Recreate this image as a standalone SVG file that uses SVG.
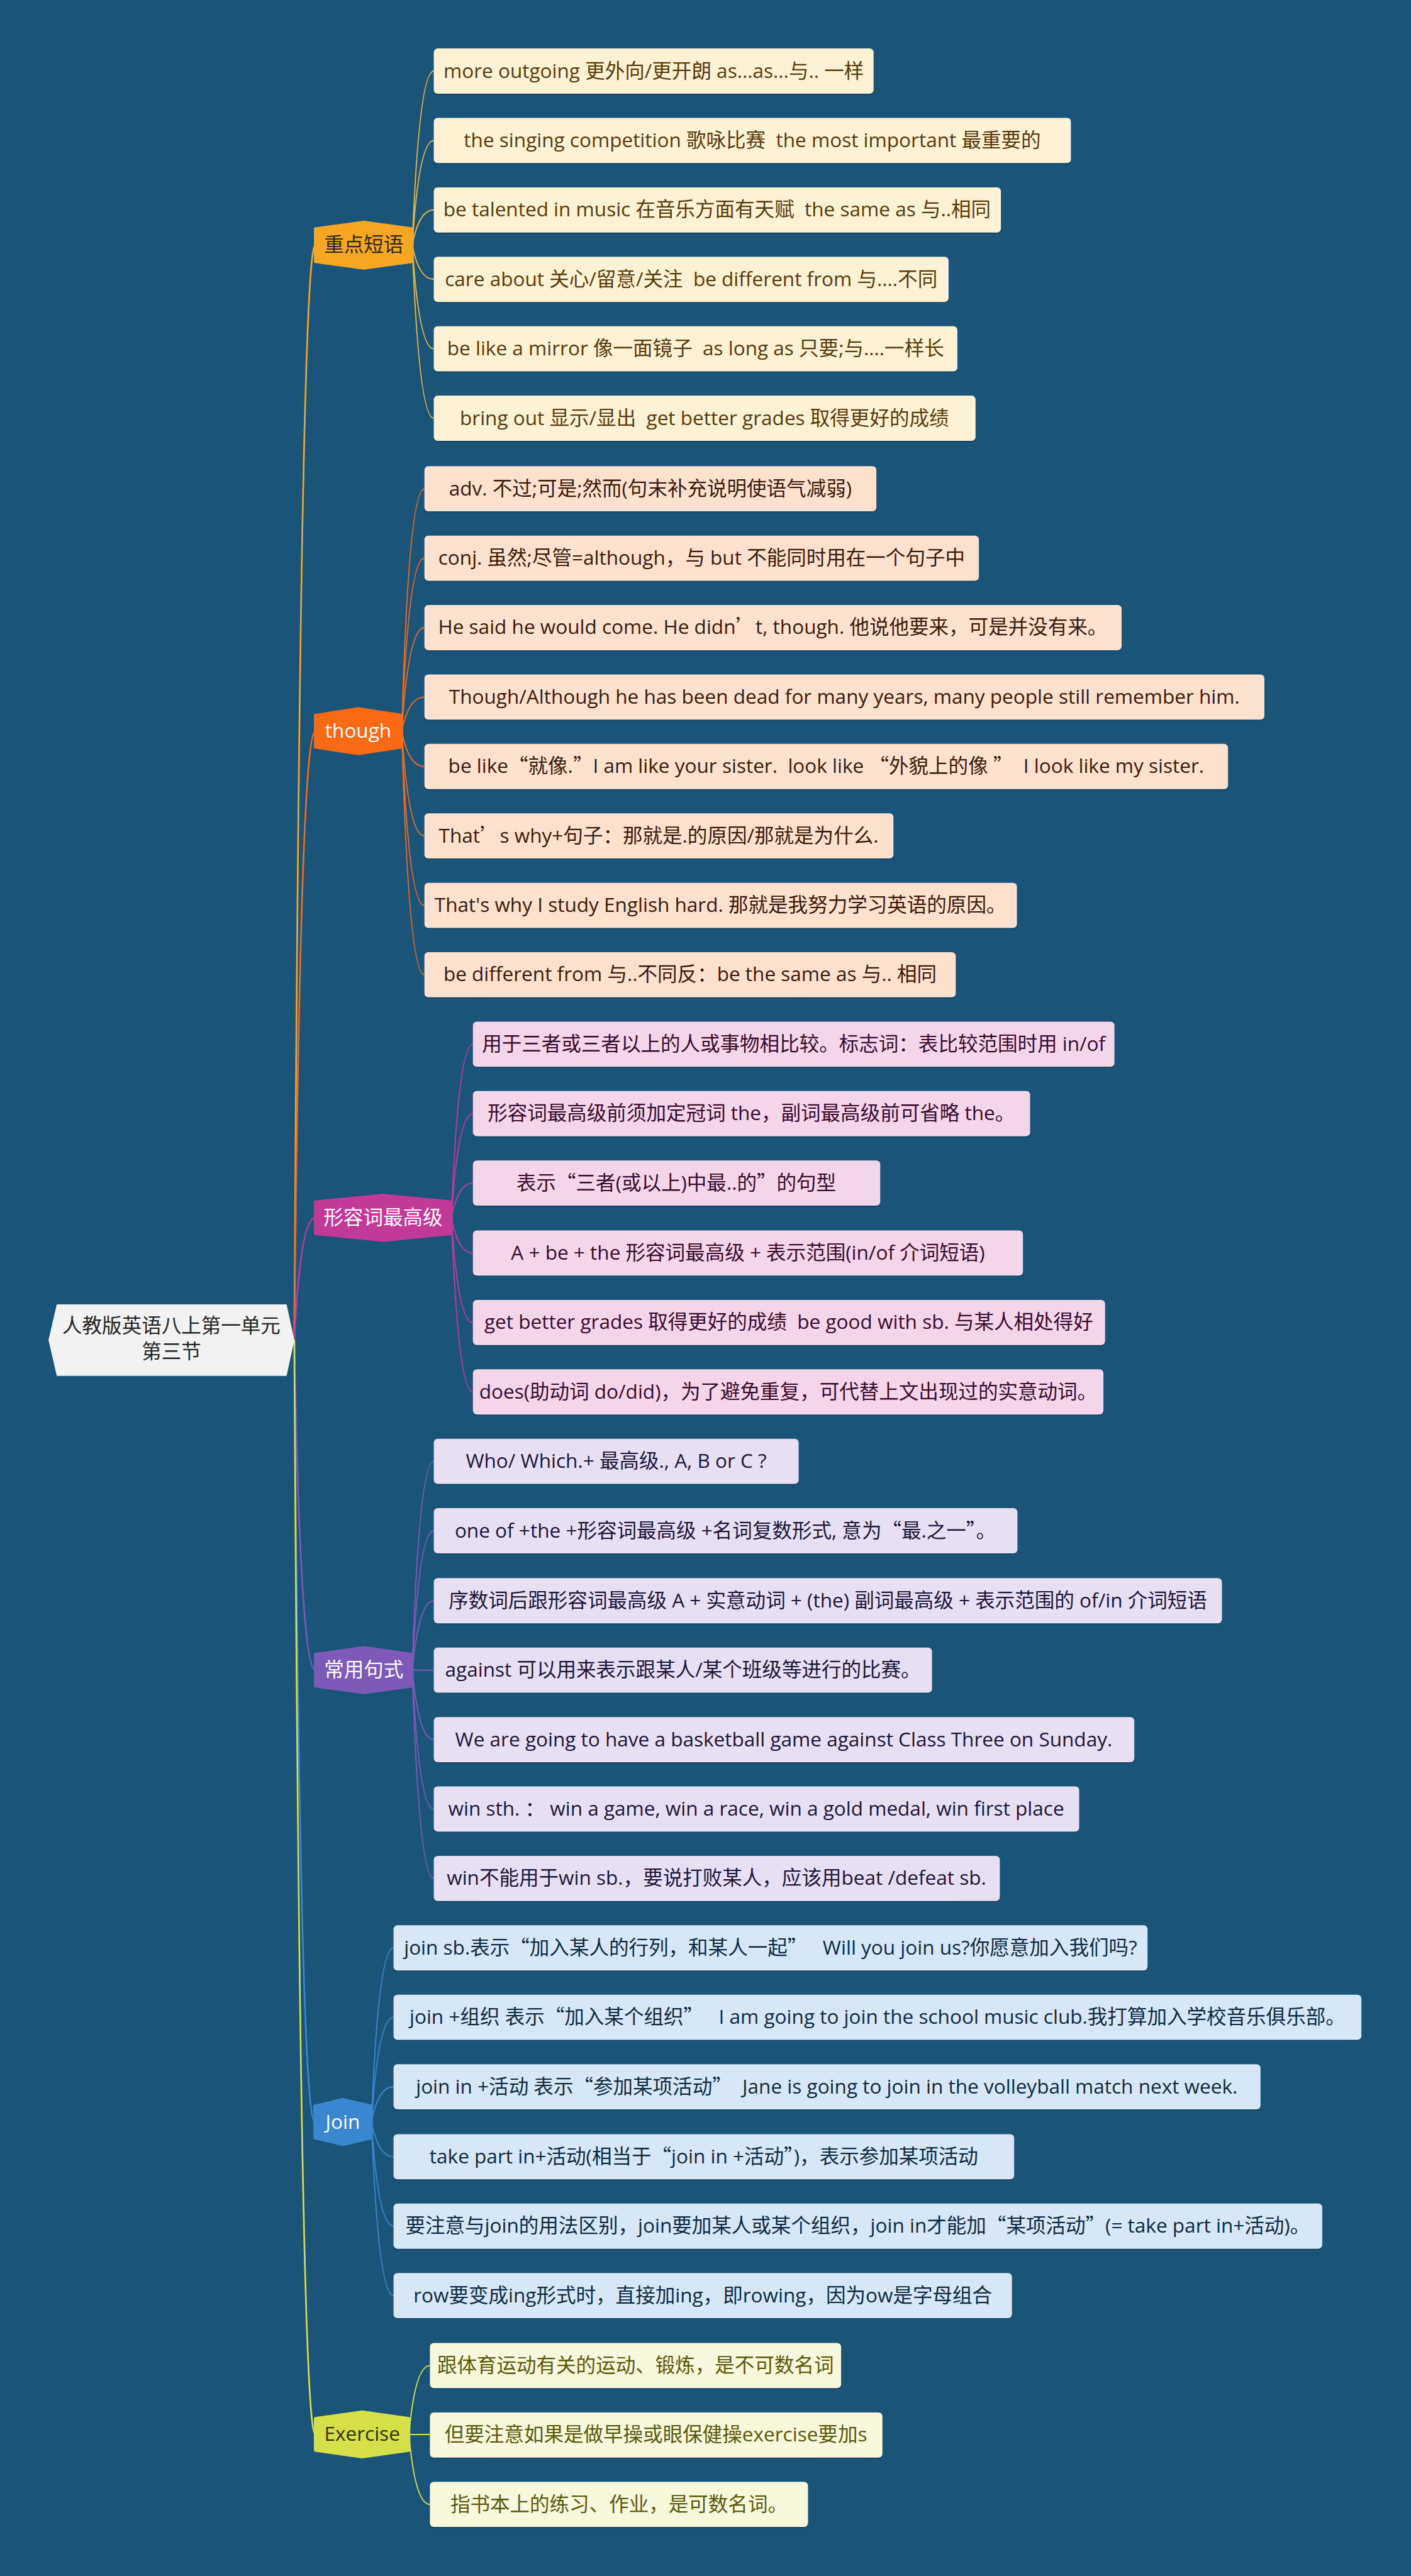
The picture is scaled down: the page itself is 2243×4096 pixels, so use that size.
<svg xmlns="http://www.w3.org/2000/svg" width="2243" height="4096" viewBox="0 0 2243 4096" xml:space="preserve">
<style>
text{font-family:"Open Sans","Noto Sans CJK SC",sans-serif;font-size:36px;text-anchor:middle;white-space:pre}
.q{font-family:"Noto Sans CJK SC",sans-serif}
.c{fill:none;stroke-width:2.2}
.rc{fill:none;stroke-width:3}
.sh{fill:#0e3550;opacity:.55}
.h{stroke-linejoin:round;stroke-width:5}
.l1{fill:#FEF2D4}.t1{fill:#5A3A08}
.l2{fill:#FDE1CF}.t2{fill:#3E1A06}
.l3{fill:#F4D6EB}.t3{fill:#3A0B2C}
.l4{fill:#E6E0F2}.t4{fill:#1E1638}
.l5{fill:#D7E7F5}.t5{fill:#0F2A42}
.l6{fill:#F8F8DC}.t6{fill:#5A5A08}
</style>
<rect width="2243" height="4096" fill="#1A5478"/>
<g transform="scale(0.876172)">
<g id="connectors">
<path class="rc" stroke="#F0A830" d="M534,2432 Q545,445 572,445"/>
<path class="rc" stroke="#F26A1B" d="M534,2432 Q545,1327 572,1327"/>
<path class="rc" stroke="#C2399A" d="M534,2432 Q545,2210 572,2210"/>
<path class="rc" stroke="#7D5AB8" d="M534,2432 Q545,3031 572,3031"/>
<path class="rc" stroke="#3A87D0" d="M534,2432 Q545,3851 571,3851"/>
<path class="rc" stroke="#D5DF48" d="M534,2432 Q545,4418 572,4418"/>
<g stroke="#E7B546">
<path class="c" d="M748,445 Q760,129 787,129"/>
<path class="c" d="M748,445 Q760,255 787,255"/>
<path class="c" d="M748,445 Q760,381 787,381"/>
<path class="c" d="M748,445 Q760,507 787,507"/>
<path class="c" d="M748,445 Q760,633 787,633"/>
<path class="c" d="M748,445 Q760,759 787,759"/>
</g>
<g stroke="#F26A1B">
<path class="c" d="M729,1327 Q741,887 770,887"/>
<path class="c" d="M729,1327 Q741,1013 770,1013"/>
<path class="c" d="M729,1327 Q741,1139 770,1139"/>
<path class="c" d="M729,1327 Q741,1265 770,1265"/>
<path class="c" d="M729,1327 Q741,1391 770,1391"/>
<path class="c" d="M729,1327 Q741,1517 770,1517"/>
<path class="c" d="M729,1327 Q741,1643 770,1643"/>
<path class="c" d="M729,1327 Q741,1769 770,1769"/>
</g>
<g stroke="#C2399A">
<path class="c" d="M819,2210 Q831,1895 858,1895"/>
<path class="c" d="M819,2210 Q831,2021 858,2021"/>
<path class="c" d="M819,2210 Q831,2147 858,2147"/>
<path class="c" d="M819,2210 Q831,2274 858,2274"/>
<path class="c" d="M819,2210 Q831,2400 858,2400"/>
<path class="c" d="M819,2210 Q831,2526 858,2526"/>
</g>
<g stroke="#7D5AB8">
<path class="c" d="M748,3031 Q760,2652 787,2652"/>
<path class="c" d="M748,3031 Q760,2778 787,2778"/>
<path class="c" d="M748,3031 Q760,2905 787,2905"/>
<path class="c" d="M748,3031 L787,3031"/>
<path class="c" d="M748,3031 Q760,3157 787,3157"/>
<path class="c" d="M748,3031 Q760,3283 787,3283"/>
<path class="c" d="M748,3031 Q760,3409 787,3409"/>
</g>
<g stroke="#3A87D0">
<path class="c" d="M674,3851 Q686,3535 714,3535"/>
<path class="c" d="M674,3851 Q686,3661 714,3661"/>
<path class="c" d="M674,3851 Q686,3787 714,3787"/>
<path class="c" d="M674,3851 Q686,3914 714,3914"/>
<path class="c" d="M674,3851 Q686,4040 714,4040"/>
<path class="c" d="M674,3851 Q686,4166 714,4166"/>
</g>
<g stroke="#D5DF48">
<path class="c" d="M742,4418 Q753,4293 780,4293"/>
<path class="c" d="M742,4418 L780,4418"/>
<path class="c" d="M742,4418 Q753,4545 780,4545"/>
</g>
</g>

<g id="root">
<path d="M88,2432 L103,2367 L520,2367 L534,2432 L520,2497 L103,2497 Z" fill="#F2F2F2"/>
<text x="311" y="2419" fill="#262626">人教版英语八上第一单元</text>
<text x="311" y="2465" fill="#262626">第三节</text>
</g>

<g id="b1">
<path class="h" d="M660,403 L748,415 L748,475 L660,487 L572,475 L572,415 Z" fill="#F5A623" stroke="#F5A623"/>
<text x="660" y="457" fill="#2E2A20">重点短语</text>
</g>
<g id="b1-1"><rect class="sh" x="787" y="90" width="798" height="82" rx="7"/><rect class="l1" x="787" y="88" width="798" height="82" rx="7"/><text class="t1" x="1186" y="141">more outgoing 更外向/更开朗 as...as...与.. 一样</text></g>
<g id="b1-2"><rect class="sh" x="787" y="216" width="1156" height="82" rx="7"/><rect class="l1" x="787" y="214" width="1156" height="82" rx="7"/><text class="t1" x="1365" y="267">the singing competition 歌咏比赛  the most important 最重要的</text></g>
<g id="b1-3"><rect class="sh" x="787" y="342" width="1029" height="82" rx="7"/><rect class="l1" x="787" y="340" width="1029" height="82" rx="7"/><text class="t1" x="1301" y="393">be talented in music 在音乐方面有天赋  the same as 与..相同</text></g>
<g id="b1-4"><rect class="sh" x="787" y="468" width="934" height="82" rx="7"/><rect class="l1" x="787" y="466" width="934" height="82" rx="7"/><text class="t1" x="1254" y="519">care about 关心/留意/关注  be different from 与....不同</text></g>
<g id="b1-5"><rect class="sh" x="787" y="594" width="950" height="82" rx="7"/><rect class="l1" x="787" y="592" width="950" height="82" rx="7"/><text class="t1" x="1262" y="645">be like a mirror 像一面镜子  as long as 只要;与....一样长</text></g>
<g id="b1-6"><rect class="sh" x="787" y="720" width="983" height="82" rx="7"/><rect class="l1" x="787" y="718" width="983" height="82" rx="7"/><text class="t1" x="1278" y="771">bring out 显示/显出  get better grades 取得更好的成绩</text></g>

<g id="b2">
<path class="h" d="M650,1286 L729,1298 L729,1356 L650,1368 L572,1356 L572,1298 Z" fill="#F96A14" stroke="#F96A14"/>
<text x="650" y="1339" fill="#FFFFFF">though</text>
</g>
<g id="b2-1"><rect class="sh" x="770" y="848" width="820" height="82" rx="7"/><rect class="l2" x="770" y="846" width="820" height="82" rx="7"/><text class="t2" x="1180" y="899">adv. 不过;可是;然而(句末补充说明使语气减弱)</text></g>
<g id="b2-2"><rect class="sh" x="770" y="974" width="1006" height="82" rx="7"/><rect class="l2" x="770" y="972" width="1006" height="82" rx="7"/><text class="t2" x="1273" y="1025">conj. 虽然;尽管=although，与 but 不能同时用在一个句子中</text></g>
<g id="b2-3"><rect class="sh" x="770" y="1100" width="1265" height="82" rx="7"/><rect class="l2" x="770" y="1098" width="1265" height="82" rx="7"/><text class="t2" x="1402" y="1151">He said he would come. He didn<tspan class="q">’</tspan>t, though. 他说他要来，可是并没有来。</text></g>
<g id="b2-4"><rect class="sh" x="770" y="1226" width="1524" height="82" rx="7"/><rect class="l2" x="770" y="1224" width="1524" height="82" rx="7"/><text class="t2" x="1532" y="1277">Though/Although he has been dead for many years, many people still remember him.</text></g>
<g id="b2-5"><rect class="sh" x="770" y="1352" width="1458" height="82" rx="7"/><rect class="l2" x="770" y="1350" width="1458" height="82" rx="7"/><text class="t2" x="1499" y="1403">be like<tspan class="q">“</tspan>就像.<tspan class="q">”</tspan>I am like your sister.  look like <tspan class="q">“</tspan>外貌上的像 <tspan class="q">”</tspan>  I look like my sister.</text></g>
<g id="b2-6"><rect class="sh" x="770" y="1478" width="851" height="82" rx="7"/><rect class="l2" x="770" y="1476" width="851" height="82" rx="7"/><text class="t2" x="1195" y="1529">That<tspan class="q">’</tspan>s why+句子：那就是.的原因/那就是为什么.</text></g>
<g id="b2-7"><rect class="sh" x="770" y="1604" width="1075" height="82" rx="7"/><rect class="l2" x="770" y="1602" width="1075" height="82" rx="7"/><text class="t2" x="1307" y="1655">That's why I study English hard. 那就是我努力学习英语的原因。</text></g>
<g id="b2-8"><rect class="sh" x="770" y="1730" width="964" height="82" rx="7"/><rect class="l2" x="770" y="1728" width="964" height="82" rx="7"/><text class="t2" x="1252" y="1781">be different from 与..不同反：be the same as 与.. 相同</text></g>

<g id="b3">
<path class="h" d="M695,2169 L819,2181 L819,2239 L695,2251 L572,2239 L572,2181 Z" fill="#C2399A" stroke="#C2399A"/>
<text x="695" y="2222" fill="#FFFFFF">形容词最高级</text>
</g>
<g id="b3-1"><rect class="sh" x="858" y="1856" width="1164" height="82" rx="7"/><rect class="l3" x="858" y="1854" width="1164" height="82" rx="7"/><text class="t3" x="1440" y="1907">用于三者或三者以上的人或事物相比较。标志词：表比较范围时用 in/of</text></g>
<g id="b3-2"><rect class="sh" x="858" y="1982" width="1011" height="82" rx="7"/><rect class="l3" x="858" y="1980" width="1011" height="82" rx="7"/><text class="t3" x="1363" y="2033">形容词最高级前须加定冠词 the，副词最高级前可省略 the。</text></g>
<g id="b3-3"><rect class="sh" x="858" y="2108" width="739" height="82" rx="7"/><rect class="l3" x="858" y="2106" width="739" height="82" rx="7"/><text class="t3" x="1227" y="2159">表示<tspan class="q">“</tspan>三者(或以上)中最..的<tspan class="q">”</tspan>的句型</text></g>
<g id="b3-4"><rect class="sh" x="858" y="2235" width="998" height="82" rx="7"/><rect class="l3" x="858" y="2233" width="998" height="82" rx="7"/><text class="t3" x="1357" y="2286">A + be + the 形容词最高级 + 表示范围(in/of 介词短语)</text></g>
<g id="b3-5"><rect class="sh" x="858" y="2361" width="1147" height="82" rx="7"/><rect class="l3" x="858" y="2359" width="1147" height="82" rx="7"/><text class="t3" x="1431" y="2412">get better grades 取得更好的成绩  be good with sb. 与某人相处得好</text></g>
<g id="b3-6"><rect class="sh" x="858" y="2487" width="1144" height="82" rx="7"/><rect class="l3" x="858" y="2485" width="1144" height="82" rx="7"/><text class="t3" x="1430" y="2538">does(助动词 do/did)，为了避免重复，可代替上文出现过的实意动词。</text></g>

<g id="b4">
<path class="h" d="M660,2990 L748,3002 L748,3060 L660,3072 L572,3060 L572,3002 Z" fill="#7D5AB8" stroke="#7D5AB8"/>
<text x="660" y="3043" fill="#FFFFFF">常用句式</text>
</g>
<g id="b4-1"><rect class="sh" x="787" y="2613" width="662" height="82" rx="7"/><rect class="l4" x="787" y="2611" width="662" height="82" rx="7"/><text class="t4" x="1118" y="2664">Who/ Which.+ 最高级., A, B or C ?</text></g>
<g id="b4-2"><rect class="sh" x="787" y="2739" width="1059" height="82" rx="7"/><rect class="l4" x="787" y="2737" width="1059" height="82" rx="7"/><text class="t4" x="1316" y="2790">one of +the +形容词最高级 +名词复数形式, 意为<tspan class="q">“</tspan>最.之一<tspan class="q">”</tspan>。</text></g>
<g id="b4-3"><rect class="sh" x="787" y="2866" width="1430" height="82" rx="7"/><rect class="l4" x="787" y="2864" width="1430" height="82" rx="7"/><text class="t4" x="1502" y="2917">序数词后跟形容词最高级 A + 实意动词 + (the) 副词最高级 + 表示范围的 of/in 介词短语</text></g>
<g id="b4-4"><rect class="sh" x="787" y="2992" width="904" height="82" rx="7"/><rect class="l4" x="787" y="2990" width="904" height="82" rx="7"/><text class="t4" x="1239" y="3043">against 可以用来表示跟某人/某个班级等进行的比赛。</text></g>
<g id="b4-5"><rect class="sh" x="787" y="3118" width="1271" height="82" rx="7"/><rect class="l4" x="787" y="3116" width="1271" height="82" rx="7"/><text class="t4" x="1422" y="3169">We are going to have a basketball game against Class Three on Sunday.</text></g>
<g id="b4-6"><rect class="sh" x="787" y="3244" width="1171" height="82" rx="7"/><rect class="l4" x="787" y="3242" width="1171" height="82" rx="7"/><text class="t4" x="1372" y="3295">win sth. ： win a game, win a race, win a gold medal, win first place</text></g>
<g id="b4-7"><rect class="sh" x="787" y="3370" width="1027" height="82" rx="7"/><rect class="l4" x="787" y="3368" width="1027" height="82" rx="7"/><text class="t4" x="1300" y="3421">win不能用于win sb.，要说打败某人，应该用beat /defeat sb.</text></g>

<g id="b5">
<path class="h" d="M622,3810 L674,3822 L674,3880 L622,3892 L571,3880 L571,3822 Z" fill="#3A87D0" stroke="#3A87D0"/>
<text x="622" y="3863" fill="#FFFFFF">Join</text>
</g>
<g id="b5-1"><rect class="sh" x="714" y="3496" width="1368" height="82" rx="7"/><rect class="l5" x="714" y="3494" width="1368" height="82" rx="7"/><text class="t5" x="1398" y="3547">join sb.表示<tspan class="q">“</tspan>加入某人的行列，和某人一起<tspan class="q">”</tspan>   Will you join us?你愿意加入我们吗?</text></g>
<g id="b5-2"><rect class="sh" x="714" y="3622" width="1756" height="82" rx="7"/><rect class="l5" x="714" y="3620" width="1756" height="82" rx="7"/><text class="t5" x="1592" y="3673">join +组织 表示<tspan class="q">“</tspan>加入某个组织<tspan class="q">”</tspan>   I am going to join the school music club.我打算加入学校音乐俱乐部。</text></g>
<g id="b5-3"><rect class="sh" x="714" y="3748" width="1573" height="82" rx="7"/><rect class="l5" x="714" y="3746" width="1573" height="82" rx="7"/><text class="t5" x="1500" y="3799">join in +活动 表示<tspan class="q">“</tspan>参加某项活动<tspan class="q">”</tspan>  Jane is going to join in the volleyball match next week.</text></g>
<g id="b5-4"><rect class="sh" x="714" y="3875" width="1126" height="82" rx="7"/><rect class="l5" x="714" y="3873" width="1126" height="82" rx="7"/><text class="t5" x="1277" y="3926">take part in+活动(相当于<tspan class="q">“</tspan>join in +活动<tspan class="q">”</tspan>)，表示参加某项活动</text></g>
<g id="b5-5"><rect class="sh" x="714" y="4001" width="1685" height="82" rx="7"/><rect class="l5" x="714" y="3999" width="1685" height="82" rx="7"/><text class="t5" x="1556" y="4052">要注意与join的用法区别，join要加某人或某个组织，join in才能加<tspan class="q">“</tspan>某项活动<tspan class="q">”</tspan>(= take part in+活动)。</text></g>
<g id="b5-6"><rect class="sh" x="714" y="4127" width="1122" height="82" rx="7"/><rect class="l5" x="714" y="4125" width="1122" height="82" rx="7"/><text class="t5" x="1275" y="4178">row要变成ing形式时，直接加ing，即rowing，因为ow是字母组合</text></g>

<g id="b6">
<path class="h" d="M657,4377 L742,4389 L742,4447 L657,4459 L572,4447 L572,4389 Z" fill="#D5DF48" stroke="#D5DF48"/>
<text x="657" y="4430" fill="#33330A">Exercise</text>
</g>
<g id="b6-1"><rect class="sh" x="780" y="4254" width="746" height="82" rx="7"/><rect class="l6" x="780" y="4252" width="746" height="82" rx="7"/><text class="t6" x="1153" y="4305">跟体育运动有关的运动、锻炼，是不可数名词</text></g>
<g id="b6-2"><rect class="sh" x="780" y="4380" width="821" height="82" rx="7"/><rect class="l6" x="780" y="4378" width="821" height="82" rx="7"/><text class="t6" x="1190" y="4431">但要注意如果是做早操或眼保健操exercise要加s</text></g>
<g id="b6-3"><rect class="sh" x="780" y="4506" width="686" height="82" rx="7"/><rect class="l6" x="780" y="4504" width="686" height="82" rx="7"/><text class="t6" x="1123" y="4557">指书本上的练习、作业，是可数名词。</text></g>
</g>
</svg>
